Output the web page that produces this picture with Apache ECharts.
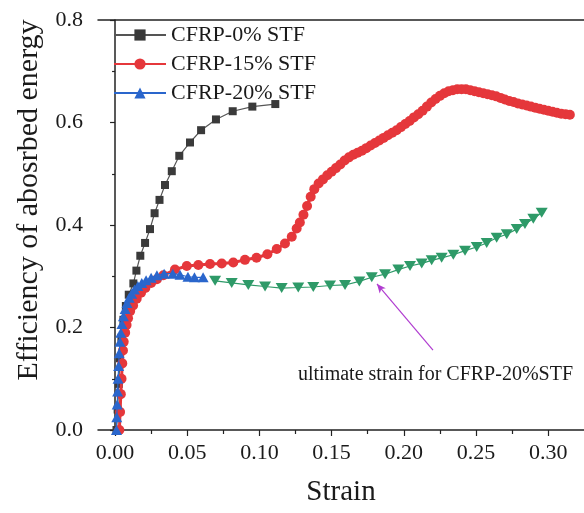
<!DOCTYPE html>
<html><head><meta charset="utf-8">
<script src="https://cdn.jsdelivr.net/npm/echarts@6/dist/echarts.min.js"></script>
<style>html,body{margin:0;padding:0;background:#fff}#c{width:584px;height:513px}</style>
</head><body><div id="c"></div>
<script>
var xTicks = [0, 0.05, 0.10, 0.15, 0.20, 0.25, 0.30];
var xMinorTicks = [0.025, 0.075, 0.125, 0.175, 0.225, 0.275];
var seriesNames = ['CFRP-0% STF', 'CFRP-15% STF', 'CFRP-20% STF'];
var annotationText = 'ultimate strain for CFRP-20%STF';

var cfrp0 = [
 [0.001,0.0],[0.0018,0.04],[0.0026,0.09],[0.0034,0.14],[0.0044,0.18],[0.0058,0.215],[0.0075,0.242],
 [0.0095,0.264],[0.0127,0.286],[0.0148,0.311],[0.0175,0.340],[0.0208,0.365],[0.0242,0.392],
 [0.0274,0.423],[0.0308,0.449],[0.0346,0.478],[0.0393,0.505],[0.0445,0.535],[0.0519,0.561],
 [0.0596,0.585],[0.0699,0.606],[0.0815,0.622],[0.0951,0.631],[0.111,0.636]
];
var cfrp15 = [
 [0.003,0.0],[0.0035,0.035],[0.004,0.07],[0.0045,0.10],[0.005,0.13],[0.0055,0.155],[0.006,0.172],
 [0.007,0.19],[0.008,0.205],[0.009,0.218],[0.0105,0.232],[0.0125,0.243],[0.015,0.256],[0.018,0.268],
 [0.021,0.277],[0.025,0.287],[0.029,0.294],[0.0335,0.302],[0.0415,0.313],[0.0497,0.320],
 [0.0577,0.322],[0.0658,0.324],[0.0739,0.325],[0.0819,0.327],[0.090,0.332],[0.098,0.336],
 [0.1055,0.343],[0.112,0.353],[0.1177,0.364],[0.1224,0.377],[0.1258,0.393],[0.128,0.405],
 [0.1305,0.420],[0.133,0.437],[0.1355,0.455],[0.138,0.470],[0.141,0.481],[0.144,0.489],
 [0.147,0.497],[0.150,0.504],[0.153,0.511],[0.156,0.518],[0.159,0.526],[0.162,0.532],
 [0.165,0.537],[0.168,0.541],[0.171,0.545],[0.174,0.550],[0.177,0.555],[0.180,0.560],
 [0.183,0.565],[0.186,0.570],[0.189,0.575],[0.192,0.580],[0.195,0.585],[0.198,0.591],
 [0.201,0.597],[0.204,0.603],[0.207,0.610],[0.210,0.616],[0.213,0.623],[0.216,0.631],
 [0.219,0.639],[0.222,0.646],[0.225,0.652],[0.228,0.657],[0.231,0.661],[0.234,0.663],
 [0.237,0.665],[0.240,0.665],[0.243,0.665],[0.246,0.663],[0.249,0.661],[0.252,0.659],
 [0.255,0.657],[0.258,0.655],[0.261,0.653],[0.264,0.651],[0.267,0.648],[0.270,0.645],
 [0.273,0.642],[0.276,0.640],[0.279,0.637],[0.282,0.635],[0.285,0.633],[0.288,0.631],
 [0.291,0.629],[0.294,0.627],[0.297,0.625],[0.300,0.623],[0.303,0.621],[0.306,0.619],
 [0.309,0.617],[0.312,0.616],[0.315,0.615]
];
var cfrp20 = [
 [0.0010,0.000],[0.0012,0.025],[0.0015,0.050],[0.0018,0.075],[0.0021,0.100],[0.0025,0.125],
 [0.0029,0.150],[0.0034,0.172],[0.0040,0.190],[0.0048,0.207],[0.0058,0.222],[0.0070,0.236],
 [0.0083,0.248],[0.0098,0.258],[0.0115,0.266],[0.0135,0.274],[0.0158,0.281],[0.0185,0.287],
 [0.0215,0.292],[0.025,0.297],[0.029,0.302],[0.034,0.305],[0.040,0.305],[0.045,0.303],
 [0.0505,0.299],[0.055,0.298],[0.061,0.298]
];
var cfrp20Ultimate = [
 [0.0693,0.291],[0.0808,0.287],[0.0923,0.283],[0.1039,0.280],[0.1154,0.277],[0.1269,0.278],
 [0.1373,0.279],[0.1489,0.282],[0.1593,0.283],[0.1692,0.290],[0.1778,0.298],[0.187,0.304],
 [0.1962,0.313],[0.2043,0.320],[0.2124,0.325],[0.2193,0.331],[0.2262,0.336],[0.2343,0.342],
 [0.2424,0.350],[0.2505,0.357],[0.2574,0.365],[0.2643,0.375],[0.2713,0.382],[0.2782,0.392],
 [0.2839,0.402],[0.2897,0.412],[0.2955,0.424]
];
var arrowFrom = [0.2202, 0.156];
var arrowTo = [0.1814, 0.285];

var FONT = 'Liberation Serif';
var TXT = '#1a1a1a';
var chart = echarts.init(document.getElementById('c'), null, {renderer:'canvas'});
var axisLine = {show:true, lineStyle:{color:'#222', width:1.5}};
chart.setOption({
  animation:false,
  backgroundColor:'#fff',
  grid:{left:98, top:20, right:0, bottom:83, containLabel:false},
  legend:{
    left:113, top:24, padding:0, orient:'vertical', itemWidth:52, itemHeight:14, itemGap:7,
    textStyle:{fontFamily:FONT, fontSize:22, color:TXT, lineHeight:22},
    data:seriesNames
  },
  xAxis:[{
    type:'value', min:-0.0118, max:0.3248, position:'bottom',
    axisLine:axisLine,
    axisTick:{show:true, length:6, lineStyle:{color:'#222', width:1.2}, customValues:xTicks},
    axisLabel:{customValues:xTicks, margin:12, fontFamily:FONT, fontSize:22, color:TXT,
      formatter:function(v){return v.toFixed(2);}},
    splitLine:{show:false},
    name:'Strain', nameLocation:'middle', nameGap:48,
    nameTextStyle:{fontFamily:FONT, fontSize:29, color:TXT}
  },{
    type:'value', min:-0.0118, max:0.3248, position:'bottom',
    axisLine:{show:false},
    axisTick:{show:true, length:4, lineStyle:{color:'#222', width:1.2}, customValues:xMinorTicks},
    axisLabel:{show:false}, splitLine:{show:false}
  },{
    type:'value', min:-0.0118, max:0.3248, position:'top',
    axisLine:axisLine, axisTick:{show:false}, axisLabel:{show:false}, splitLine:{show:false}
  }],
  yAxis:{
    type:'value', min:0, max:0.8, interval:0.2,
    axisLine:axisLine,
    axisTick:{show:true, length:5, lineStyle:{color:'#222', width:1.2}},
    minorTick:{show:true, splitNumber:2, length:3, lineStyle:{color:'#222', width:1.2}},
    axisLabel:{margin:15, fontFamily:FONT, fontSize:22, color:TXT,
      formatter:function(v){return v.toFixed(1);}},
    splitLine:{show:false},
    name:'Efficiency of abosrbed energy', nameLocation:'middle', nameGap:54,
    nameTextStyle:{fontFamily:FONT, fontSize:30, color:TXT, padding:[0,0,0,50]}
  },
  series:[{
    name:seriesNames[0], type:'line', data:cfrp0, symbol:'rect', symbolSize:8,
    itemStyle:{color:'#3a3a3a'}, lineStyle:{color:'#555', width:1.2}, z:2
  },{
    name:seriesNames[1], type:'line', data:cfrp15, symbol:'circle', symbolSize:10,
    itemStyle:{color:'#e5373b'}, lineStyle:{color:'#e5373b', width:3}, z:3
  },{
    name:seriesNames[2], type:'line', data:cfrp20, symbol:'triangle', symbolSize:[11,10],
    itemStyle:{color:'#2a66cc'}, lineStyle:{color:'#2a66cc', width:1.2}, z:4
  },{
    name:'ultimate', type:'line', data:cfrp20Ultimate, symbol:'triangle', symbolRotate:180, symbolSize:[12,10],
    itemStyle:{color:'#2e9a68'}, lineStyle:{color:'#2e9a68', width:1.2}, z:5,
    markLine:{silent:true, symbol:['none','arrow'], symbolSize:[6,9],
      lineStyle:{color:'#b03cd0', width:1.2, type:'solid'}, label:{show:false},
      data:[[{coord:arrowFrom},{coord:arrowTo}]]}
  }],
  graphic:[{
    type:'text', left:298, top:365,
    style:{text:annotationText, font:'20px "Liberation Serif"', fill:TXT}
  }]
});
</script></body></html>
